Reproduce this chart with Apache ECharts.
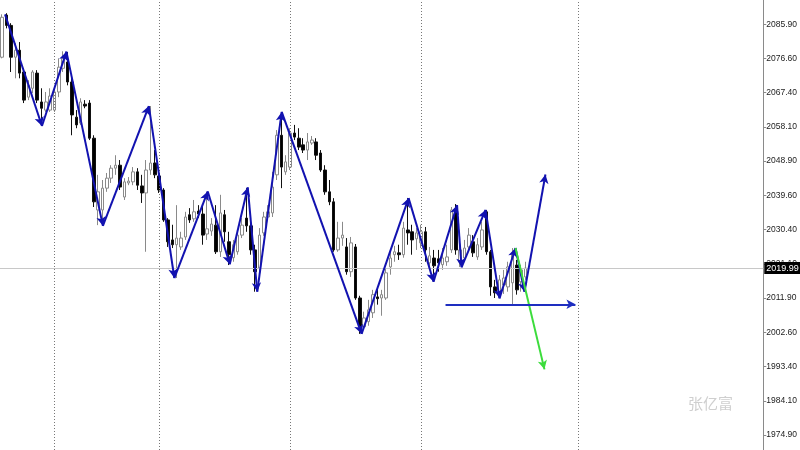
<!DOCTYPE html>
<html><head><meta charset="utf-8">
<script src="https://cdn.jsdelivr.net/npm/echarts@6/dist/echarts.min.js"></script>
<style>html,body{margin:0;padding:0;background:#fff}#c{width:800px;height:450px}</style>
</head><body><div id="c"></div>
<script>
// OHLC candles
const opens  = [2077.0,2088.4,2085.6,2077.0,2078.9,2073.0,2066.2,2068.6,2072.7,2064.9,2062.7,2062.7,2062.7,2067.6,2074.0,2075.7,2070.3,2060.8,2059.2,2064.3,2064.6,2055.1,2035.7,2035.7,2041.6,2044.3,2047.0,2047.8,2039.2,2043.0,2043.3,2046.0,2042.2,2040.3,2046.5,2048.4,2044.9,2041.1,2033.0,2027.6,2026.3,2025.7,2028.4,2034.4,2033.3,2035.4,2034.6,2029.2,2030.0,2031.6,2024.4,2034.4,2027.1,2022.8,2024.4,2028.9,2033.5,2031.4,2024.9,2020.0,2029.5,2033.8,2034.9,2045.2,2055.9,2046.0,2047.3,2056.5,2055.1,2053.3,2051.9,2053.8,2054.1,2051.1,2046.5,2040.6,2037.9,2024.9,2028.1,2025.7,2019.0,2025.7,2011.9,2004.1,2005.5,2007.9,2012.2,2011.9,2011.9,2020.3,2023.6,2024.1,2023.6,2030.3,2029.8,2027.9,2026.8,2029.8,2021.4,2022.7,2022.5,2020.9,2021.7,2024.9,2035.7,2021.7,2022.7,2025.7,2027.1,2023.0,2025.7,2035.2,2024.4,2014.9,2013.6,2015.4,2014.9,2016.0,2020.8,2016.3,2017.6];
const closes = [2087.8,2085.6,2077.0,2078.9,2072.7,2065.4,2069.4,2073.0,2065.4,2063.2,2064.9,2066.5,2067.6,2074.3,2076.7,2070.3,2061.4,2058.7,2064.9,2063.8,2055.1,2037.9,2040.6,2041.6,2044.3,2047.0,2047.8,2041.9,2043.3,2043.5,2046.0,2042.4,2040.3,2046.5,2048.4,2045.2,2041.1,2033.0,2027.1,2026.3,2028.1,2028.1,2033.8,2033.0,2035.2,2034.6,2028.9,2030.6,2031.9,2024.4,2034.9,2029.8,2023.6,2026.3,2028.9,2031.6,2031.4,2024.9,2019.0,2028.9,2033.8,2035.2,2041.9,2055.9,2047.3,2048.7,2056.5,2055.4,2052.7,2051.9,2054.1,2054.6,2050.5,2046.5,2040.6,2037.9,2024.9,2028.1,2028.9,2019.0,2026.8,2011.9,2004.1,2006.5,2008.7,2012.8,2011.7,2012.8,2018.7,2022.7,2024.4,2023.6,2030.8,2029.5,2027.6,2029.5,2029.8,2024.9,2023.3,2020.6,2021.4,2022.7,2023.0,2035.7,2024.9,2024.9,2025.4,2028.9,2024.1,2026.3,2030.3,2024.4,2014.9,2013.3,2016.8,2017.3,2020.3,2023.6,2014.1,2019.5,2019.99];
const highs  = [2088.6,2088.9,2086.2,2080.8,2081.1,2074.0,2070.8,2073.5,2073.5,2068.6,2067.6,2068.6,2069.2,2076.7,2078.6,2078.4,2072.2,2062.7,2065.9,2065.4,2065.4,2055.9,2045.2,2043.8,2045.7,2047.8,2050.5,2049.2,2044.3,2044.6,2047.3,2047.0,2045.2,2049.2,2063.8,2051.9,2046.0,2041.6,2033.5,2031.7,2037.0,2029.8,2035.2,2036.2,2038.4,2037.0,2037.0,2040.6,2033.5,2037.0,2039.8,2035.7,2029.8,2027.6,2030.3,2033.5,2041.6,2032.5,2026.3,2030.8,2035.2,2037.0,2046.0,2057.3,2062.2,2050.5,2057.8,2058.7,2057.8,2055.1,2056.5,2055.7,2055.1,2051.9,2047.8,2043.8,2038.9,2032.5,2032.5,2028.1,2028.4,2026.5,2012.5,2008.2,2011.4,2014.1,2014.6,2014.1,2020.0,2024.9,2026.0,2026.3,2032.5,2038.9,2031.7,2030.8,2031.7,2031.1,2025.7,2024.9,2024.9,2025.4,2026.3,2036.5,2037.3,2027.6,2027.6,2030.8,2028.9,2028.1,2032.5,2035.7,2024.9,2016.8,2018.1,2019.5,2021.7,2025.4,2022.2,2020.9,2021.7];
const lows   = [2076.7,2084.8,2073.0,2071.3,2071.3,2064.6,2065.4,2067.3,2064.6,2058.4,2062.2,2062.2,2062.2,2066.2,2073.0,2069.4,2055.9,2057.8,2058.7,2063.2,2054.6,2036.5,2031.6,2031.4,2040.6,2043.0,2045.2,2041.1,2038.4,2042.4,2042.4,2041.1,2037.6,2024.4,2045.2,2044.3,2040.3,2032.5,2025.7,2025.4,2017.3,2024.9,2027.6,2032.2,2032.5,2033.5,2026.3,2027.6,2028.7,2023.8,2023.0,2027.1,2020.8,2021.7,2023.6,2028.1,2029.8,2023.6,2013.6,2016.8,2028.7,2033.0,2033.8,2043.8,2041.6,2045.2,2046.5,2054.6,2051.9,2051.1,2049.2,2053.3,2049.2,2046.0,2039.8,2037.0,2024.4,2024.4,2026.0,2018.2,2017.6,2011.4,2002.2,2003.3,2004.4,2006.5,2010.1,2007.1,2011.4,2018.2,2021.7,2022.2,2022.8,2026.3,2023.6,2024.9,2025.4,2021.7,2019.5,2016.3,2019.0,2019.5,2020.6,2024.1,2023.6,2020.3,2021.7,2024.9,2023.0,2022.2,2024.9,2023.6,2012.5,2011.9,2011.9,2013.0,2013.6,2010.0,2012.8,2013.6,2016.8];

// zigzag pivots: [bar position, price]
const zigzag = [[0.65,2088.6],[9.12,2058.4],[14.73,2078.5],[23.09,2031.4],[33.63,2063.8],[39.47,2017.3],[47.14,2040.7],[52.18,2021.0],[56.3,2041.8],[58.48,2013.6],[64.09,2062.2],[82.41,2002.2],[93.18,2038.9],[98.9,2016.3],[104.29,2037.0],[105.32,2020.2],[110.82,2035.7],[114.02,2011.8],[117.69,2025.4],[119.75,2013.6],[124.56,2045.3]];
const greenArrow = [[117.69,2025.4],[124.33,1992.6]];
const levelArrow = [[101.65,2010.2],[131.43,2010.2]];
const separators = [12,36,66,96,132];
const lastPrice = 2019.99;
const yTicks = [2085.90,2076.60,2067.40,2058.10,2048.90,2039.60,2030.40,2021.10,2011.90,2002.60,1993.40,1984.10,1974.90];
const nBars = 175;
const watermark = '张亿富';

const cats = Array.from({length:nBars},(_,i)=>String(i));
const candleData = opens.map((o,i)=>[o,closes[i],lows[i],highs[i]]);

const zzSegs = [];
for (let i=1;i<zigzag.length;i++) zzSegs.push([{coord:zigzag[i-1]},{coord:zigzag[i]}]);

const chart = echarts.init(document.getElementById('c'),null,{renderer:'canvas'});
chart.setOption({
  animation:false,
  backgroundColor:'#fff',
  grid:{left:0,right:36,top:0,bottom:0,containLabel:false},
  xAxis:[
    {type:'category',data:cats,boundaryGap:true,show:false},
    {type:'value',min:-0.5,max:nBars-0.5,show:false}
  ],
  yAxis:{type:'value',position:'right',min:1970.8,max:2092.47,scale:true,
    splitLine:{show:false},
    axisLine:{show:true,onZero:false,lineStyle:{color:'#8a8a8a',width:1}},
    axisTick:{show:true,length:3,lineStyle:{color:'#8a8a8a'},customValues:yTicks},
    axisLabel:{show:true,margin:3,customValues:yTicks,color:'#222',fontFamily:'Liberation Sans',fontSize:8.5,formatter:v=>v.toFixed(2)}
  },
  graphic:[{type:'text',left:688,top:396,style:{text:watermark,fill:'#cfcfcf',font:'15px "Noto Sans CJK SC"'}}],
  series:[
    {type:'candlestick',xAxisIndex:0,yAxisIndex:0,data:candleData,barWidth:3,
     itemStyle:{color:'#ffffff',color0:'#000000',borderColor:'#8a8a8a',borderColor0:'#111111',borderWidth:1},
     markLine:{silent:true,symbol:['none','none'],animation:false,
       data:[
         {yAxis:lastPrice,lineStyle:{color:'#c8c8c8',width:1,type:'solid'},
          label:{show:true,position:'end',distance:1,formatter:lastPrice.toFixed(2),backgroundColor:'#000',color:'#fff',fontFamily:'Liberation Sans',fontSize:9,padding:[2,2,1,2]}}
       ].concat(separators.map(s=>({xAxis:s,lineStyle:{color:'#777',width:1,type:[1,2]},label:{show:false}})))
     }
    },
    {type:'line',xAxisIndex:1,yAxisIndex:0,data:[],
     markLine:{silent:true,symbol:['none','arrow'],symbolSize:[7,9],label:{show:false},
       lineStyle:{color:'#1212b0',width:2,type:'solid'},data:zzSegs}},
    {type:'line',xAxisIndex:1,yAxisIndex:0,data:[],
     markLine:{silent:true,symbol:['none','arrow'],symbolSize:[7,9],label:{show:false},
       lineStyle:{color:'#3cdc3c',width:2,type:'solid'},data:[[{coord:greenArrow[0]},{coord:greenArrow[1]}]]}},
    {type:'line',xAxisIndex:1,yAxisIndex:0,data:[],
     markLine:{silent:true,symbol:['none','arrow'],symbolSize:[7,9],label:{show:false},
       lineStyle:{color:'#1e2ec0',width:2,type:'solid'},data:[[{coord:levelArrow[0]},{coord:levelArrow[1]}]]}}
  ]
});
</script></body></html>
